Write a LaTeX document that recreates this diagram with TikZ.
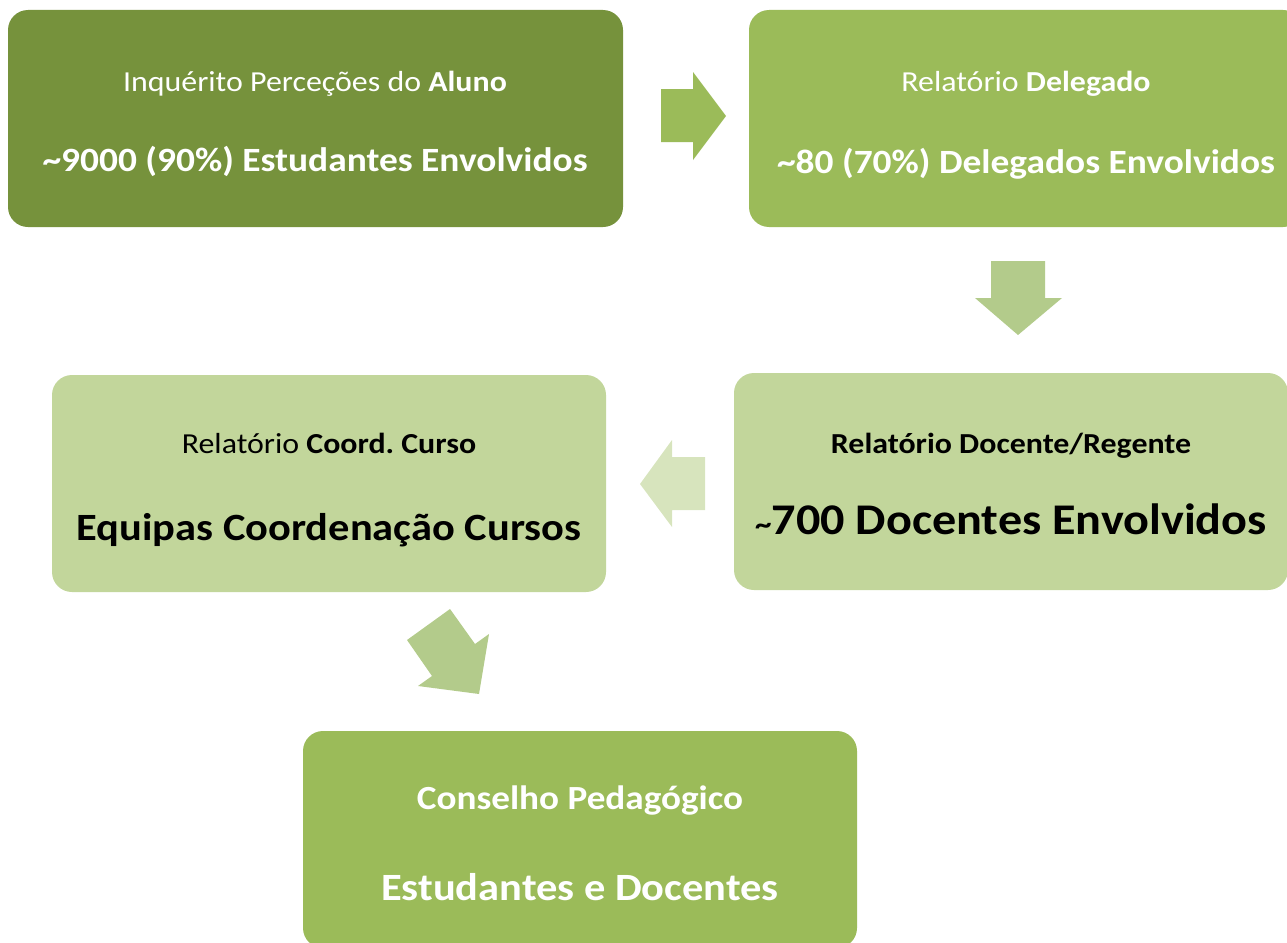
\documentclass[tikz,border=0pt]{standalone}
\usepackage{fontspec}
\setmainfont[FakeStretch=1.1]{Carlito}
\definecolor{oliveD}{HTML}{76923C}
\definecolor{oliveM}{HTML}{9BBB59}
\definecolor{oliveL}{HTML}{C2D69B}
\definecolor{arrowL}{HTML}{B3CB8B}
\definecolor{arrowXL}{HTML}{D7E4BD}
\tikzset{
  box/.style={rounded corners=20pt, inner sep=0pt, minimum width=554pt, minimum height=217pt},
  lbl/.style={inner sep=0pt, anchor=base},
  small/.style={font=\fontsize{29}{33}\selectfont},
  big/.style={font=\fontsize{34}{40}\selectfont\bfseries},
  bigger/.style={font=\fontsize{38.6}{44}\selectfont\bfseries},
  huge/.style={font=\fontsize{43.8}{50}\selectfont\bfseries},
}
\begin{document}
\frenchspacing
\begin{tikzpicture}[x=1pt,y=-1pt]
\useasboundingbox (0,0) rectangle (1287,942);
% boxes
\node[box, fill=oliveD, minimum width=615pt] (b1) at (315.5,118.5) {};
\node[box, fill=oliveM] (b2) at (1026,118.5) {};
\node[box, fill=oliveL] (b3) at (1011,481.5) {};
\node[box, fill=oliveL] (b4) at (329,483.5) {};
\node[box, fill=oliveM] (b5) at (580,839.5) {};
% texts
\node[lbl, small, text=white] (t1a) at (315,91) {Inquérito Perceções do \textbf{Aluno}};
\node[lbl, big, text=white] (t1b) at (315,171) {\textasciitilde 9000 (90\%) Estudantes Envolvidos};
\node[lbl, small, text=white] (t2a) at (1026,92) {Relatório \textbf{Delegado}};
\node[lbl, big, text=white] (t2b) at (1026,173) {\textasciitilde 80 (70\%) Delegados Envolvidos};
\node[lbl, small, text=black] (t3a) at (1011,453) {\textbf{Relatório Docente/Regente}};
\node[lbl, huge, text=black] (t3b) at (1011,534) {{\fontsize{30}{34}\selectfont\textasciitilde}700 Docentes Envolvidos};
\node[lbl, small, text=black] (t4a) at (329,453) {Relatório \textbf{Coord. Curso}};
\node[lbl, bigger, text=black] (t4b) at (329,540) {Equipas Coordenação Cursos};
\node[lbl, text=white, font=\fontsize{33.8}{38}\selectfont\bfseries] (t5a) at (580,809) {Conselho Pedagógico};
\node[lbl, bigger, text=white] (t5b) at (580,900) {Estudantes e Docentes};
% arrows
\fill[oliveM] (661,89) -- (693,89) -- (693,72) -- (726,116) -- (693,160) -- (693,142) -- (661,142) -- cycle;
\fill[arrowL] (991,261) -- (1045,261) -- (1045,298) -- (1062,298) -- (1018,335) -- (975,298) -- (991,298) -- cycle;
\fill[arrowXL] (705,457) -- (672,457) -- (672,440) -- (640,484) -- (672,527) -- (672,510) -- (705,510) -- cycle;
\fill[arrowL] (407,640) -- (450,609) -- (475,644) -- (489,634) -- (479,694) -- (418,686) -- (432,676) -- cycle;
\end{tikzpicture}
\end{document}
